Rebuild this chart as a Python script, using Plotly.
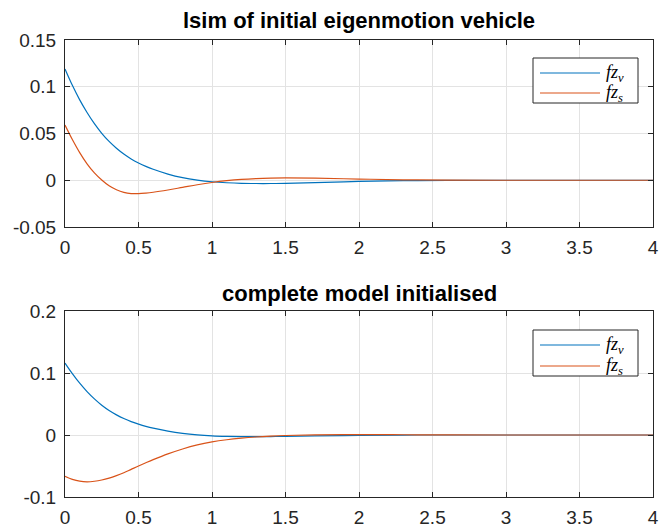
import plotly.graph_objects as go

# Simulation time (s)
t = [0, 0.05, 0.1, 0.15, 0.2, 0.25, 0.3, 0.35, 0.4, 0.45, 0.5, 0.55, 0.6, 0.7, 0.8,
     0.9, 1.0, 1.1, 1.2, 1.3, 1.4, 1.5, 1.7, 2.0, 2.3, 2.6, 3.0, 3.5, 4.0]

# lsim of initial eigenmotion vehicle
top_fzv = [0.119, 0.1015, 0.086, 0.0725, 0.0605, 0.0502, 0.0415, 0.0342, 0.028, 0.0228,
           0.0185, 0.0148, 0.0117, 0.0066, 0.0028, 0.0002, -0.0016, -0.0027, -0.0033,
           -0.0035, -0.0035, -0.0033, -0.0026, -0.0013, -0.0005, -0.0001, 0.0, 0.0, 0.0]
top_fzs = [0.059, 0.0435, 0.0295, 0.0175, 0.0078, 0.0002, -0.006, -0.0102, -0.013,
           -0.0143, -0.0143, -0.0137, -0.0128, -0.0104, -0.0076, -0.0048, -0.0024, -0.0005,
           0.0009, 0.0018, 0.0023, 0.0025, 0.0022, 0.0013, 0.0005, 0.0001, 0.0, 0.0, 0.0]

# complete model initialised
bot_fzv = [0.116, 0.099, 0.0835, 0.070, 0.0582, 0.048, 0.0395, 0.0325, 0.0265, 0.0215,
           0.0175, 0.014, 0.011, 0.0062, 0.0026, 0.0002, -0.0013, -0.0021, -0.0025,
           -0.0026, -0.0025, -0.0022, -0.0015, -0.0006, -0.0001, 0.0, 0.0, 0.0, 0.0]
bot_fzs = [-0.0665, -0.0715, -0.0745, -0.0755, -0.0746, -0.0726, -0.0695, -0.0655, -0.061,
           -0.0555, -0.050, -0.0448, -0.0398, -0.0305, -0.0225, -0.016, -0.0112, -0.0077,
           -0.0051, -0.0032, -0.0018, -0.0008, 0.0002, 0.0006, 0.0004, 0.0001, 0.0, 0.0, 0.0]

titles = ["lsim of initial eigenmotion vehicle", "complete model initialised"]
labels = ["<i>fz</i><sub><i>v</i></sub>", "<i>fz</i><sub><i>s</i></sub>"]
colors = ["#0072BD", "#D95319"]

W, H = 660, 531
px = lambda x: x / W
py = lambda y: 1 - y / H

fig = go.Figure()
panels = [(top_fzv, top_fzs, "x", "y"), (bot_fzv, bot_fzs, "x2", "y2")]
for fzv, fzs, xa, ya in panels:
    for vals, name, col in zip((fzv, fzs), labels, colors):
        fig.add_trace(go.Scatter(x=t, y=vals, mode="lines", name=name, xaxis=xa, yaxis=ya,
                                 line=dict(color=col, width=1.2, shape="spline", smoothing=1),
                                 showlegend=False))

tick_font = dict(family="Liberation Sans, Arial", size=19, color="#262626")
axis_common = dict(showline=True, linecolor="#262626", linewidth=1, mirror="ticks",
                   ticks="inside", ticklen=5, tickcolor="#262626", showgrid=True,
                   gridcolor="#e3e3e3", gridwidth=1, zeroline=False, automargin=False,
                   tickfont=tick_font)

xdom = [px(65), px(653)]
fig.update_layout(
    width=W, height=H, margin=dict(l=0, r=0, t=0, b=0, autoexpand=False),
    paper_bgcolor="white", plot_bgcolor="white", template="none",
    xaxis=dict(domain=xdom, range=[0, 4], dtick=0.5, anchor="y", ticklabelstandoff=3,
               **axis_common),
    yaxis=dict(domain=[py(227), py(40)], range=[-0.05, 0.15], anchor="x",
               tickvals=[-0.05, 0, 0.05, 0.1, 0.15], ticklabelstandoff=4,
               ticktext=["-0.05", "0", "0.05", "0.1", "0.15"], **axis_common),
    xaxis2=dict(domain=xdom, range=[0, 4], dtick=0.5, anchor="y2", ticklabelstandoff=3,
                **axis_common),
    yaxis2=dict(domain=[py(497), py(311)], range=[-0.1, 0.2], anchor="x2",
                tickvals=[-0.1, 0, 0.1, 0.2], ticktext=["-0.1", "0", "0.1", "0.2"],
                ticklabelstandoff=4, **axis_common),
)

# Panel titles
for title, ymid in zip(titles, (21, 293)):
    fig.add_annotation(text=f"<b>{title}</b>", xref="paper", yref="paper",
                       x=(xdom[0] + xdom[1]) / 2, y=py(ymid), xanchor="center",
                       yanchor="middle", showarrow=False,
                       font=dict(family="Liberation Sans, Arial", size=22, color="black"))

# Legend boxes
for box_top, box_bot, rows in ((58, 103, (73, 93)), (330, 376, (345, 366))):
    fig.add_shape(type="rect", xref="paper", yref="paper", x0=px(533), x1=px(638),
                  y0=py(box_bot), y1=py(box_top), line=dict(color="#262626", width=1),
                  fillcolor="white", layer="above")
    for row_y, lab, col in zip(rows, labels, colors):
        fig.add_shape(type="line", xref="paper", yref="paper", x0=px(540), x1=px(600),
                      y0=py(row_y), y1=py(row_y), line=dict(color=col, width=1.2),
                      layer="above")
        fig.add_annotation(text=lab, xref="paper", yref="paper", x=px(604), y=py(row_y),
                           xanchor="left", yanchor="middle", showarrow=False,
                           font=dict(family="Liberation Serif, Times New Roman", size=18,
                                     color="black"))

fig.write_html("out.html")
